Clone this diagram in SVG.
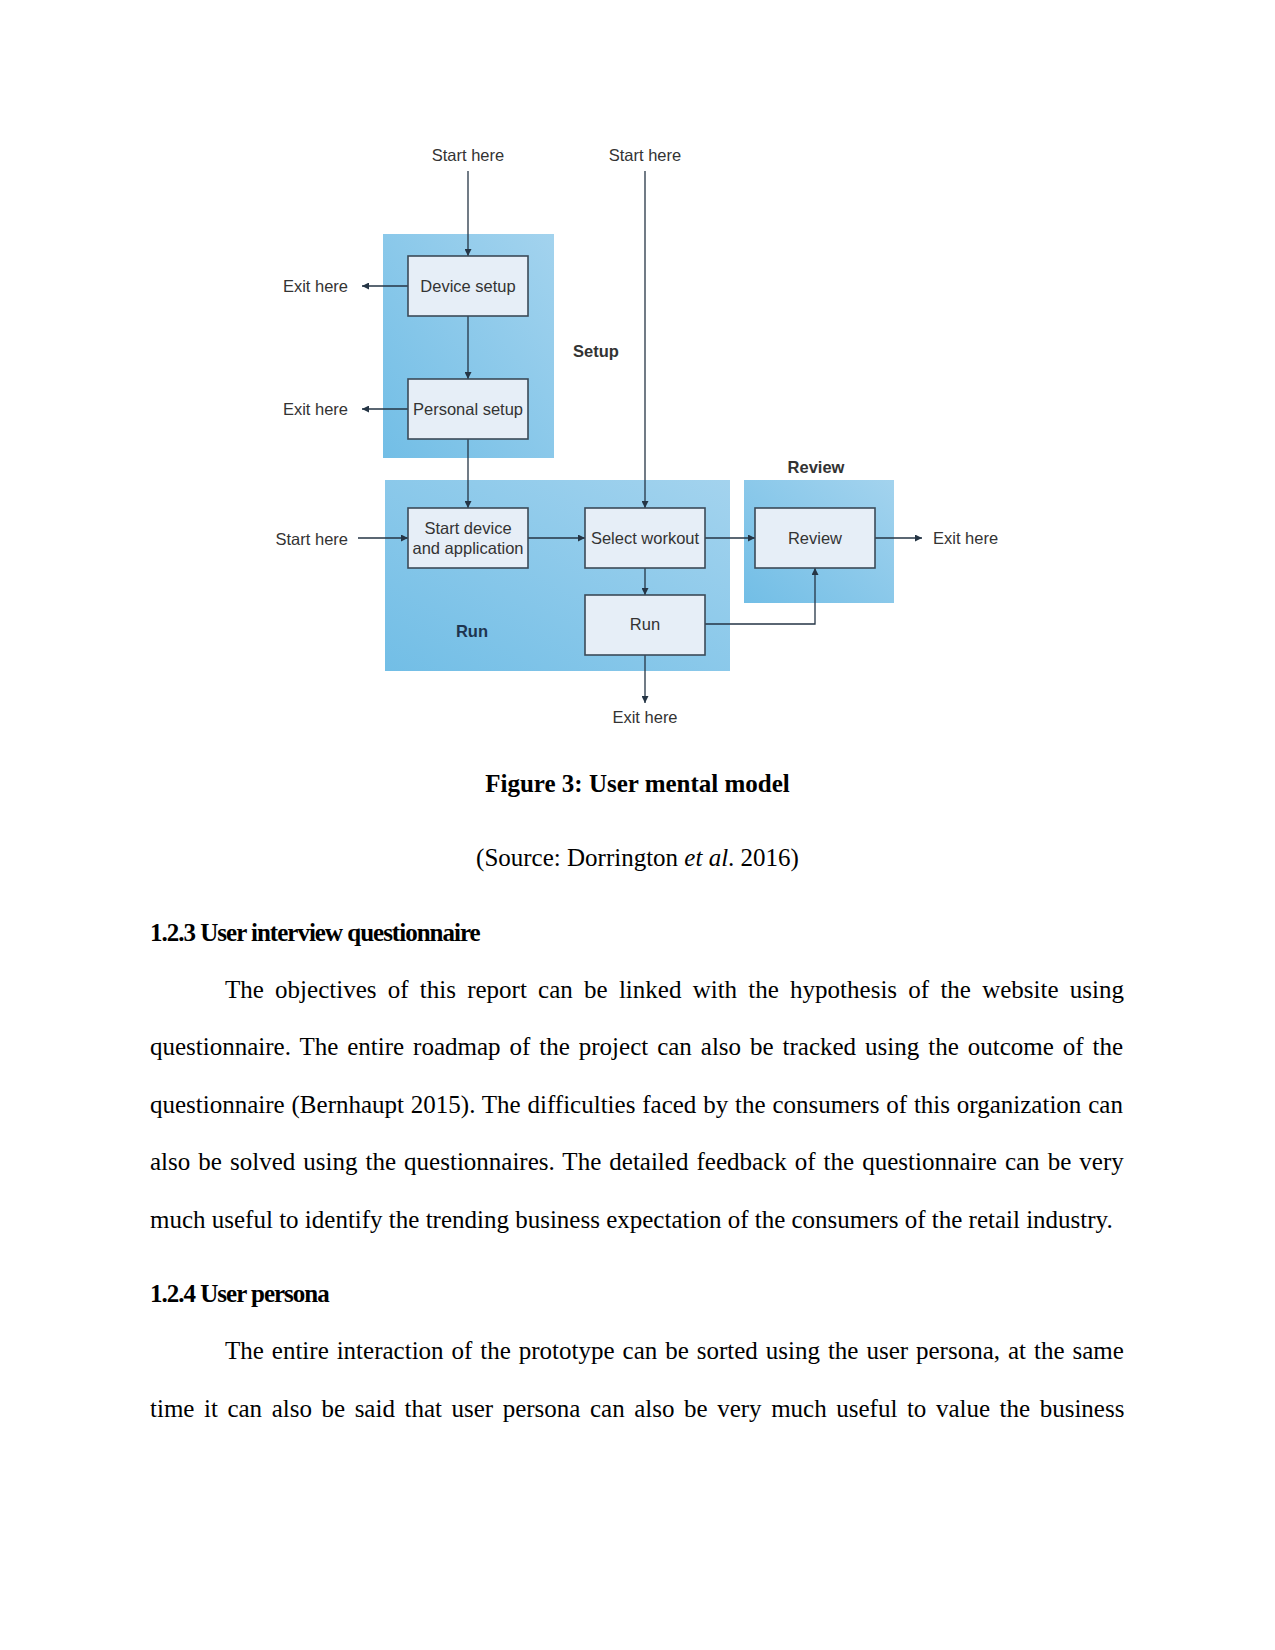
<svg xmlns="http://www.w3.org/2000/svg" width="1275" height="1650" viewBox="0 0 1275 1650">
<defs>
<linearGradient id="blue" x1="1" y1="0" x2="0" y2="1">
<stop offset="0" stop-color="#a3d3ee"/>
<stop offset="1" stop-color="#72bee6"/>
</linearGradient>
<marker id="arr" viewBox="0 0 10 10" refX="10" refY="5" markerWidth="9" markerHeight="7" markerUnits="userSpaceOnUse" orient="auto">
<path d="M0,0 L10,5 L0,10 z" fill="#253545"/>
</marker>
<style>
.area{fill:url(#blue);}
.box{fill:#e6eef7;stroke:#3b4a58;stroke-width:1.6;}
.lbl{font-family:"Liberation Sans",Arial,sans-serif;font-size:16.5px;fill:#333;}
.grp{font-family:"Liberation Sans",Arial,sans-serif;font-size:16.5px;font-weight:bold;fill:#333;}
.c{text-anchor:middle;}
.e{text-anchor:end;}
.con{fill:none;stroke:#253545;stroke-width:1.3;}
.body{font-family:"Liberation Serif","Times New Roman",serif;font-size:25px;fill:#000;}
.h{font-family:"Liberation Serif","Times New Roman",serif;font-size:25px;font-weight:bold;fill:#000;letter-spacing:-1px;}
</style>
</defs>
<rect width="1275" height="1650" fill="#fff"/>

<g id="areas">
<rect id="setup-area" class="area" x="383" y="234" width="171" height="224"/>
<rect id="run-area" class="area" x="385" y="480" width="345" height="191"/>
<rect id="review-area" class="area" x="744" y="480" width="150" height="123"/>
<text class="grp" x="573" y="357">Setup</text>
<text class="grp c" x="472" y="637" style="fill:#1e3550">Run</text>
<text class="grp c" x="816" y="473">Review</text>
</g>

<g id="connectors">
<line class="con" x1="468" y1="171" x2="468" y2="256" marker-end="url(#arr)"/>
<line class="con" x1="468" y1="316" x2="468" y2="379" marker-end="url(#arr)"/>
<line class="con" x1="408" y1="286" x2="362" y2="286" marker-end="url(#arr)"/>
<line class="con" x1="408" y1="409" x2="362" y2="409" marker-end="url(#arr)"/>
<line class="con" x1="468" y1="439" x2="468" y2="508" marker-end="url(#arr)"/>
<line class="con" x1="645" y1="171" x2="645" y2="508" marker-end="url(#arr)"/>
<line class="con" x1="358" y1="538" x2="408" y2="538" marker-end="url(#arr)"/>
<line class="con" x1="528" y1="538" x2="585" y2="538" marker-end="url(#arr)"/>
<line class="con" x1="645" y1="568" x2="645" y2="595" marker-end="url(#arr)"/>
<line class="con" x1="705" y1="538" x2="755" y2="538" marker-end="url(#arr)"/>
<line class="con" x1="645" y1="655" x2="645" y2="703" marker-end="url(#arr)"/>
<polyline class="con" points="705,624 815,624 815,568" marker-end="url(#arr)"/>
<line class="con" x1="875" y1="538" x2="922" y2="538" marker-end="url(#arr)"/>
</g>

<g id="terminals">
<text class="lbl c" x="468" y="161">Start here</text>
<text class="lbl c" x="645" y="161">Start here</text>
<text class="lbl e" x="348" y="292">Exit here</text>
<text class="lbl e" x="348" y="415">Exit here</text>
<text class="lbl e" x="348" y="545">Start here</text>
<text class="lbl c" x="645" y="723">Exit here</text>
<text class="lbl" x="933" y="544">Exit here</text>
</g>

<g id="device-setup">
<rect class="box" x="408" y="256" width="120" height="60"/>
<text class="lbl c" x="468" y="292">Device setup</text>
</g>
<g id="personal-setup">
<rect class="box" x="408" y="379" width="120" height="60"/>
<text class="lbl c" x="468" y="415">Personal setup</text>
</g>
<g id="start-device">
<rect class="box" x="408" y="508" width="120" height="60"/>
<text class="lbl c" x="468" y="534">Start device</text>
<text class="lbl c" x="468" y="554">and application</text>
</g>
<g id="select-workout">
<rect class="box" x="585" y="508" width="120" height="60"/>
<text class="lbl c" x="645" y="544">Select workout</text>
</g>
<g id="run">
<rect class="box" x="585" y="595" width="120" height="60"/>
<text class="lbl c" x="645" y="630">Run</text>
</g>
<g id="review">
<rect class="box" x="755" y="508" width="120" height="60"/>
<text class="lbl c" x="815" y="544">Review</text>
</g>

<g id="text">
<text class="body c" x="637.5" y="792" font-weight="bold">Figure 3: User mental model</text>
<text class="body c" x="637.5" y="866">(Source: Dorrington <tspan font-style="italic">et al</tspan>. 2016)</text>
<text class="h" x="150" y="941">1.2.3 User interview questionnaire</text>
<text class="body" x="225" y="998" word-spacing="5">The objectives of this report can be linked with the hypothesis of the website using</text>
<text class="body" x="150" y="1055" word-spacing="2.7">questionnaire. The entire roadmap of the project can also be tracked using the outcome of the</text>
<text class="body" x="150" y="1113" word-spacing="0.6">questionnaire (Bernhaupt 2015). The difficulties faced by the consumers of this organization can</text>
<text class="body" x="150" y="1170" word-spacing="1.8">also be solved using the questionnaires. The detailed feedback of the questionnaire can be very</text>
<text class="body" x="150" y="1228">much useful to identify the trending business expectation of the consumers of the retail industry.</text>
<text class="h" x="150" y="1302">1.2.4 User persona</text>
<text class="body" x="225" y="1359" word-spacing="1.7">The entire interaction of the prototype can be sorted using the user persona, at the same</text>
<text class="body" x="150" y="1417" word-spacing="3.3">time it can also be said that user persona can also be very much useful to value the business</text>
</g>
</svg>
